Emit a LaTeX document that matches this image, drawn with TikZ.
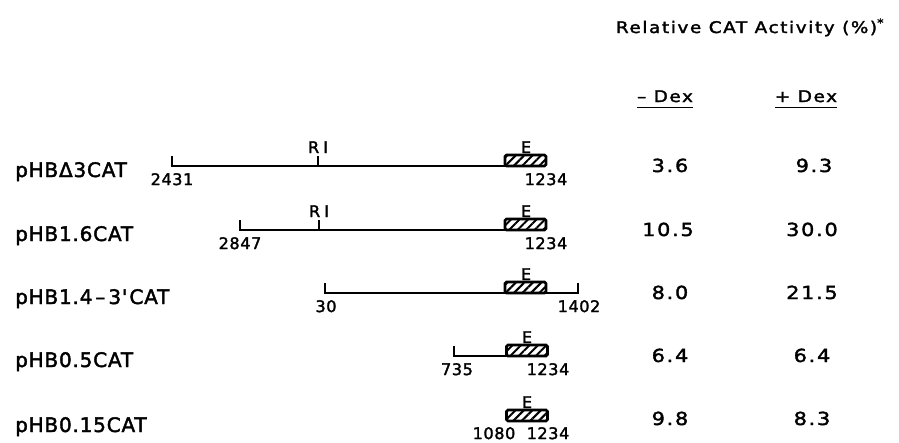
\documentclass[tikz,border=0pt]{standalone}
\usepackage{fontspec}
\setmainfont{DejaVu Sans}
\newfontfamily\widefont[FakeStretch=1.15,LetterSpace=10,FakeBold=2]{DejaVu Sans}
\newfontfamily\labfont[LetterSpace=4,FakeBold=2]{DejaVu Sans}
\usepackage{tikz}
\usetikzlibrary{patterns.meta}
\tikzstyle{construct} = [line width=2pt, line cap=rect]
\tikzstyle{exon} = [rectangle, draw=black, line width=2.6pt, rounded corners=1.5pt, minimum width=41pt, minimum height=11pt, inner sep=0pt, outer sep=0pt, pattern={Lines[angle=45,distance=6pt,line width=2pt]}]
\tikzstyle{endlabel} = [anchor=north, inner sep=0pt, font=\labfont\fontsize{16}{19}\selectfont]
\tikzstyle{sitelabel} = [anchor=base, inner sep=0pt, font=\labfont\fontsize{16}{19}\selectfont]
\tikzstyle{rowlabel} = [anchor=base west, inner sep=0pt, font=\labfont\fontsize{20}{24}\selectfont]
\tikzstyle{value} = [anchor=base, inner sep=0pt, font=\widefont\fontsize{18}{22}\selectfont]
\tikzstyle{header} = [anchor=base, inner sep=0pt, font=\widefont\fontsize{16}{19}\selectfont]
\begin{document}
\begin{tikzpicture}[x=1pt, y=-1pt]
\useasboundingbox (0,0) rectangle (899,442);
\node (title) [header] at (750,33) {Relative CAT Activity (\%)\textsuperscript{*}};
\node (minusdex) [header] at (665,102) {– Dex};
\node (plusdex) [header] at (806,102) {+ Dex};
\draw [line width=1.8pt] ([yshift=-5pt]minusdex.south west) -- ([yshift=-5pt]minusdex.south east);
\draw [line width=1.8pt] ([yshift=-5pt]plusdex.south west) -- ([yshift=-5pt]plusdex.south east);

\node (row1) [rowlabel] at (15,177) {pHBΔ3CAT};
\coordinate (t1) at (172,157);
\coordinate (l1) at (172,166);
\coordinate (rt1) at (318,157);
\coordinate (r1) at (318,166);
\draw [construct] (t1) -- (l1) -- (r1);
\draw [construct] (rt1) -- (r1);
\node (box1) [exon] at (525.5,160.5) {};
\draw [construct] (r1) -- (box1.south west);
\node (ri1) [sitelabel] at (318,153) {R\hspace{4pt}I};
\node (e1) [sitelabel] at (526,153) {E};
\node (n2431) [endlabel] at (172,173) {2431};
\node (n1234a) [endlabel] at (546,173) {1234};
\node (m1) [value] at (670,172) {3.6};
\node (p1) [value] at (814,172) {9.3};

\node (row2) [rowlabel] at (15,241) {pHB1.6CAT};
\coordinate (t2) at (240,221);
\coordinate (l2) at (240,230);
\coordinate (rt2) at (319,221);
\coordinate (r2) at (319,230);
\draw [construct] (t2) -- (l2) -- (r2);
\draw [construct] (rt2) -- (r2);
\node (box2) [exon] at (525.5,224.5) {};
\draw [construct] (r2) -- (box2.south west);
\node (ri2) [sitelabel] at (319,217) {R\hspace{4pt}I};
\node (e2) [sitelabel] at (526,217) {E};
\node (n2847) [endlabel] at (240,237) {2847};
\node (n1234b) [endlabel] at (546,237) {1234};
\node (m2) [value] at (668,236) {10.5};
\node (p2) [value] at (812,236) {30.0};

\node (row3) [rowlabel] at (15,304) {pHB1.4\hspace{3pt}–\hspace{3pt}3'\hspace{2pt}CAT};
\coordinate (t3) at (325,284);
\coordinate (l3) at (325,293);
\coordinate (rt3) at (578,284);
\coordinate (r3) at (578,293);
\node (box3) [exon] at (525.5,287.5) {};
\draw [construct] (t3) -- (l3) -- (box3.south west);
\draw [construct] (box3.south east) -- (r3) -- (rt3);
\node (e3) [sitelabel] at (526,280) {E};
\node (n30) [endlabel] at (326,300) {30};
\node (n1402) [endlabel] at (579,300) {1402};
\node (m3) [value] at (670,299) {8.0};
\node (p3) [value] at (812,299) {21.5};

\node (row4) [rowlabel] at (15,367) {pHB0.5CAT};
\coordinate (t4) at (454,347);
\coordinate (l4) at (454,356);
\node (box4) [exon] at (527,350.5) {};
\draw [construct] (t4) -- (l4) -- (box4.south west);
\node (e4) [sitelabel] at (527,343) {E};
\node (n735) [endlabel] at (457,363) {735};
\node (n1234c) [endlabel] at (548,363) {1234};
\node (m4) [value] at (670,362) {6.4};
\node (p4) [value] at (812,362) {6.4};

\node (row5) [rowlabel] at (15,432) {pHB0.15CAT};
\node (box5) [exon] at (527,415.5) {};
\node (e5) [sitelabel] at (527,408) {E};
\node (n1080) [endlabel] at (494,427) {1080};
\node (n1234d) [endlabel] at (548,427) {1234};
\node (m5) [value] at (670,425) {9.8};
\node (p5) [value] at (812,425) {8.3};
\end{tikzpicture}
\end{document}
